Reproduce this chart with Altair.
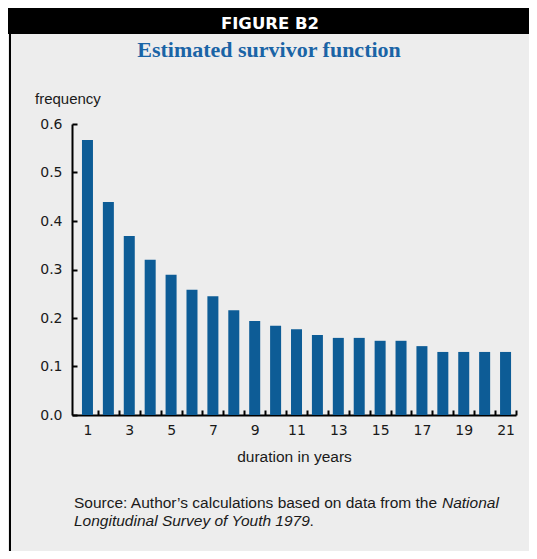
import altair as alt
import pandas as pd

# ---- data ----
years = list(range(1, 22))
frequency = [0.567, 0.439, 0.369, 0.320, 0.289, 0.258, 0.245, 0.216, 0.194, 0.184,
             0.177, 0.165, 0.159, 0.159, 0.153, 0.153, 0.142, 0.130, 0.130, 0.130, 0.130]
x_label_years = [1, 3, 5, 7, 9, 11, 13, 15, 17, 19, 21]
x_tick_positions = [1.5, 2.5, 3.5, 4.5, 5.5, 6.5, 7.5, 8.5, 9.5, 10.5, 11.5,
                    12.5, 13.5, 14.5, 15.5, 16.5, 17.5, 18.5, 19.5, 20.5, 21.5]
y_ticks = [0.0, 0.1, 0.2, 0.3, 0.4, 0.5, 0.6]

header_text = "FIGURE B2"
title_text = "Estimated survivor function"
y_title = "frequency"
x_title = "duration in years"
source_1 = "Source: Author\u2019s calculations based on data from the "
source_1_it = "National"
source_2_it = "Longitudinal Survey of Youth 1979"
source_2_end = "."

df = pd.DataFrame({"year": years, "frequency": frequency})
one = pd.DataFrame({"a": [0]})

W, H = 444, 291
BAR = "#0d5c96"
BLUE = "#1a64a6"
TXT = "#1a1a1a"

x_axis = alt.Axis(
    values=sorted(x_label_years + x_tick_positions),
    labelExpr="datum.value % 1 === 0 ? '' + datum.value : ''",
    tickOpacity={"condition": {"test": "datum.value % 1 === 0", "value": 0}, "value": 1},
    tickSize=alt.ExprRef("-5"),
    tickWidth=2, tickColor="black",
    domainColor="black", domainWidth=2,
    labelFont="DejaVu Sans", labelFontSize=14, labelColor=TXT,
    labelPadding=13, labelOverlap=False, labelFlush=False, labelBound=False,
    grid=False, title=x_title, titleFont="Liberation Sans", titleFontSize=15.5,
    titleFontWeight="normal", titleColor=TXT, titlePadding=12,
)
y_axis = alt.Axis(
    values=y_ticks, format=".1f",
    tickSize=alt.ExprRef("-5"), tickWidth=2, tickColor="black",
    domainColor="black", domainWidth=2,
    labelFont="DejaVu Sans", labelFontSize=14, labelColor=TXT,
    labelPadding=15, labelOverlap=False, labelFlush=False,
    grid=False, title=None,
)

bars = alt.Chart(df).mark_bar(width=11, color=BAR).encode(
    x=alt.X("year:Q", scale=alt.Scale(domain=[0.26, 21.5], nice=False, zero=False, padding=0),
            axis=x_axis),
    y=alt.Y("frequency:Q", scale=alt.Scale(domain=[0, 0.6], nice=False, padding=0), axis=y_axis),
)

header_bar = alt.Chart(one).mark_rect(color="black").encode(
    x=alt.value(-64), x2=alt.value(470), y=alt.value(-116), y2=alt.value(-90)
)
left_line = alt.Chart(one).mark_rect(color="black").encode(
    x=alt.value(-63), x2=alt.value(-61), y=alt.value(-90), y2=alt.value(430)
)

def txt(text, x, y, size, font="Liberation Sans", weight="normal", style="normal",
        color=TXT, align="left"):
    return alt.Chart(one).mark_text(
        text=text, font=font, fontSize=size, fontWeight=weight, fontStyle=style,
        color=color, align=align, baseline="alphabetic"
    ).encode(x=alt.value(x), y=alt.value(y))

layers = [
    header_bar, left_line, bars,
    txt(header_text, 198, -95.5, 16.5, font="DejaVu Sans", weight="bold", color="white", align="center"),
    txt(title_text, 197, -67.5, 22, font="Liberation Serif", weight="bold", color=BLUE, align="center"),
    txt(y_title, -37, -20, 15),
    txt(source_1, 2, 384, 15.5),
    txt(source_1_it, 370, 384, 15.5, style="italic"),
    txt(source_2_it, 2, 402, 15.5, style="italic"),
    txt(source_2_end, 237.5, 402, 15.5),
]

chart = alt.layer(*layers).properties(
    width=W, height=H,
    padding={"left": 64, "top": 116, "right": 13, "bottom": 136},
    autosize=alt.AutoSizeParams(type="none"),
    background="#ededed",
).configure_view(stroke=None)

chart.save("out.html", embed_options={"renderer": "svg", "actions": False})
